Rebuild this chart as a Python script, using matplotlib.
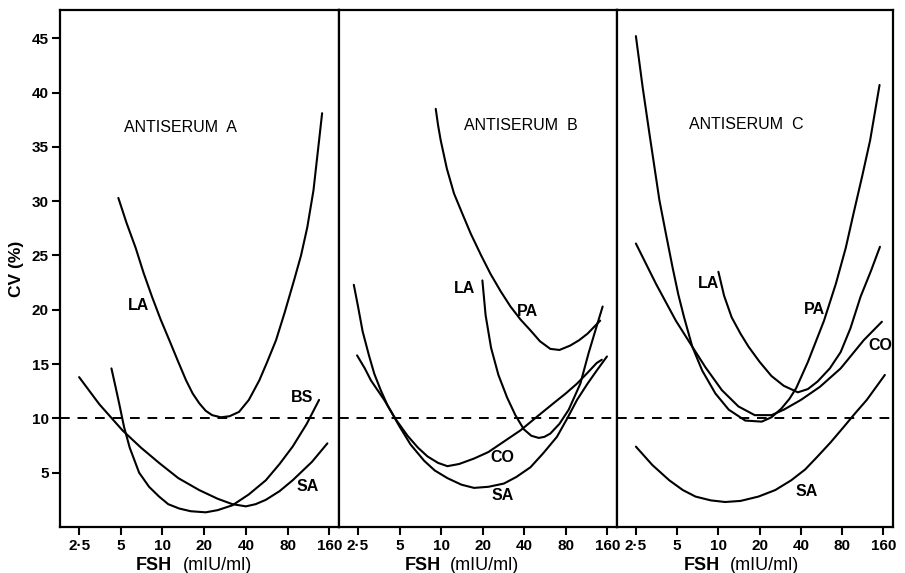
import matplotlib
matplotlib.use("Agg")
import matplotlib.pyplot as plt

plt.rcParams['font.family'] = ['Liberation Sans', 'DejaVu Sans']

# ---------------- data (FSH mIU/ml, CV %) ----------------
xticks = [2.5, 5, 10, 20, 40, 80, 160]
xticklabels = ['2·5', '5', '10', '20', '40', '80', '160']
yticks = [5, 10, 15, 20, 25, 30, 35, 40, 45]
threshold = 10

# Antiserum A
a_la_x = [4.8, 5.5, 6.4, 7.3, 8.4, 9.7, 11.2, 12.9, 14.8, 16.5, 18.4, 20.5, 22.8, 26.4, 30.5,
          35.7, 42, 50, 57, 66, 76, 89, 100, 111, 123, 135, 142]
a_la_y = [30.3, 28.0, 25.7, 23.4, 21.2, 19.1, 17.2, 15.3, 13.5, 12.3, 11.4, 10.7, 10.3, 10.1, 10.2,
          10.6, 11.7, 13.5, 15.2, 17.2, 19.7, 22.7, 25.0, 27.6, 31.0, 35.6, 38.1]
a_bs_x = [4.28, 4.6, 4.86, 5.28, 5.8, 6.78, 8.0, 9.45, 11.0, 13.2, 16.0, 20.5, 25, 32, 42,
          55.7, 70, 87, 110, 135]
a_bs_y = [14.6, 12.8, 11.4, 9.2, 7.3, 5.0, 3.7, 2.8, 2.1, 1.7, 1.45, 1.35, 1.55, 2.0, 3.0,
          4.3, 5.8, 7.4, 9.5, 11.7]
a_sa_x = [2.5, 3.5, 5.14, 7.0, 9.45, 13.0, 18.4, 25, 32, 40, 47, 55.7, 70, 87, 120, 155]
a_sa_y = [13.8, 11.3, 8.9, 7.3, 5.9, 4.5, 3.4, 2.6, 2.1, 1.9, 2.1, 2.5, 3.3, 4.3, 6.0, 7.7]

# Antiserum B
b_pa_x = [9.14, 9.5, 9.93, 11.0, 12.4, 14.3, 16.4, 19.5, 22.8, 27, 31.8, 37.6, 44.4, 52,
          61.8, 72, 86, 100, 115, 142]
b_pa_y = [38.5, 37.0, 35.6, 33.0, 30.7, 28.8, 27.0, 25.0, 23.3, 21.7, 20.3, 19.1, 18.1, 17.1,
          16.4, 16.3, 16.7, 17.2, 17.8, 19.0]
b_la_x = [19.9, 21, 23, 26, 30.1, 34.5, 39.7, 45, 51, 56, 61.8, 72, 84, 102, 117, 134, 148]
b_la_y = [22.7, 19.5, 16.5, 14.0, 11.9, 10.3, 9.0, 8.4, 8.2, 8.3, 8.6, 9.5, 10.8, 13.2, 16.0,
          18.5, 20.3]
b_sa_x = [2.33, 2.5, 2.70, 3.0, 3.28, 3.65, 4.09, 4.97, 6.0, 7.53, 9.0, 11.1, 14.0, 17.3, 22,
          28.5, 35, 44.4, 55, 69, 82, 96.5, 115, 134, 159]
b_sa_y = [22.3, 20.3, 18.0, 15.8, 14.1, 12.6, 11.2, 9.3, 7.6, 6.1, 5.2, 4.5, 3.9, 3.6, 3.7,
          4.0, 4.6, 5.5, 6.8, 8.3, 10.0, 11.7, 13.2, 14.4, 15.7]
b_co_x = [2.46, 2.8, 3.10, 3.87, 4.7, 5.71, 6.8, 7.96, 9.5, 11.1, 13.5, 17.3, 22, 28, 37.6,
          50, 65.3, 80, 96.5, 115, 134, 146]
b_co_y = [15.8, 14.6, 13.5, 11.7, 9.9, 8.4, 7.3, 6.5, 5.9, 5.6, 5.8, 6.3, 6.9, 7.8, 8.9,
          10.2, 11.4, 12.3, 13.2, 14.2, 15.1, 15.4]

# Antiserum C
c_pa_x = [2.5, 2.8, 3.14, 3.71, 4.14, 4.63, 5.1, 5.62, 6.45, 7.62, 9.5, 11.9, 15.7, 20.7,
          24.4, 28.8, 33, 37, 45, 59, 72, 85, 97, 112, 128, 150]
c_pa_y = [45.2, 40.5, 36.2, 30.1, 27.0, 23.9, 21.4, 19.3, 16.6, 14.4, 12.3, 10.8, 9.8, 9.7,
          10.1, 10.9, 11.8, 12.8, 15.2, 19.0, 22.4, 25.7, 28.9, 32.3, 35.6, 40.7]
c_co_x = [2.5, 3.5, 4.89, 6.45, 8.05, 10.6, 14.0, 18.4, 24.4, 30, 40, 55, 78, 115, 156]
c_co_y = [26.1, 22.4, 19.0, 16.6, 14.7, 12.6, 11.1, 10.3, 10.3, 10.8, 11.7, 12.9, 14.6, 17.2, 18.9]
c_la_x = [10.0, 11, 12.5, 14.5, 16.6, 20, 24.4, 30, 38, 45, 53, 65, 78, 92, 109, 130, 151]
c_la_y = [23.5, 21.3, 19.3, 17.8, 16.6, 15.2, 13.9, 13.0, 12.4, 12.7, 13.4, 14.6, 16.1, 18.3,
          21.2, 23.6, 25.8]
c_sa_x = [2.5, 3.3, 4.38, 5.5, 6.81, 8.8, 11.2, 14.5, 19.6, 26, 34, 43, 53, 66, 82, 100, 121, 164]
c_sa_y = [7.4, 5.7, 4.3, 3.4, 2.8, 2.45, 2.3, 2.4, 2.8, 3.4, 4.3, 5.3, 6.5, 7.8, 9.2, 10.5,
          11.7, 14.0]

panels = [
    dict(title='ANTISERUM  A', title_xy=(13.4, 36.8), xlab_split=(0.40, 0.44),
         curves=[(a_la_x, a_la_y), (a_bs_x, a_bs_y), (a_sa_x, a_sa_y)],
         labels=[('LA', 6.7, 20.4), ('BS', 102, 11.9), ('SA', 111, 3.7)]),
    dict(title='ANTISERUM  B', title_xy=(37.6, 37.0), xlab_split=(0.365, 0.40),
         curves=[(b_pa_x, b_pa_y), (b_la_x, b_la_y), (b_sa_x, b_sa_y), (b_co_x, b_co_y)],
         labels=[('LA', 14.8, 22.0), ('PA', 42.2, 19.8), ('CO', 27.8, 6.4), ('SA', 28.0, 2.9)]),
    dict(title='ANTISERUM  C', title_xy=(16.1, 37.1), xlab_split=(0.373, 0.41),
         curves=[(c_pa_x, c_pa_y), (c_co_x, c_co_y), (c_la_x, c_la_y), (c_sa_x, c_sa_y)],
         labels=[('LA', 8.5, 22.4), ('PA', 50.6, 20.0), ('CO', 151, 16.7), ('SA', 44.4, 3.3)]),
]

fig = plt.figure(figsize=(9.05, 5.73), dpi=100)
lefts = [60, 339, 617, 893]
bottom, top = 0.0803, 0.9825
for i, p in enumerate(panels):
    l = lefts[i] / 905
    w = (lefts[i + 1] - lefts[i]) / 905
    ax = fig.add_axes([l, bottom, w, top - bottom])
    ax.set_xscale('log')
    ax.set_xlim(1.82, 188)
    ax.set_ylim(0, 47.6)
    for xs, ys in p['curves']:
        ax.plot(xs, ys, color='black', lw=1.5, solid_capstyle='round', solid_joinstyle='round')
    ax.axhline(threshold, color='black', lw=1.4, ls=(0, (5, 4)))
    ax.text(p['title_xy'][0], p['title_xy'][1], p['title'], ha='center', va='center',
            fontsize=11.5, fontweight='normal')
    for t, x, y in p['labels']:
        ax.text(x, y, t, ha='center', va='center', fontsize=11.5, fontweight='bold')
    ax.set_xticks(xticks)
    ax.set_xticklabels(xticklabels, fontweight='bold')
    ax.xaxis.set_minor_locator(matplotlib.ticker.NullLocator())
    ax.tick_params(axis='x', direction='out', length=6, width=1.5, labelsize=11, pad=3)
    for s in ax.spines.values():
        s.set_linewidth(1.6)
    # x-axis title: bold "FSH" followed by lighter unit
    fx, ux = p['xlab_split']
    ax.text(fx, -0.058, 'FSH', transform=ax.transAxes, ha='right', va='top',
            fontsize=13, fontweight='bold')
    ax.text(ux, -0.058, '(mIU/ml)', transform=ax.transAxes, ha='left', va='top',
            fontsize=13, fontweight='normal')
    if i == 0:
        ax.set_yticks(yticks)
        ax.set_yticklabels([str(v) for v in yticks], fontweight='bold')
        ax.tick_params(axis='y', direction='out', length=6, width=1.5, labelsize=11, pad=2)
        ax.set_ylabel('CV (%)', fontsize=12.5, fontweight='bold', labelpad=6)
    else:
        ax.set_yticks([])

fig.savefig('out.png', dpi=100, facecolor='white')
